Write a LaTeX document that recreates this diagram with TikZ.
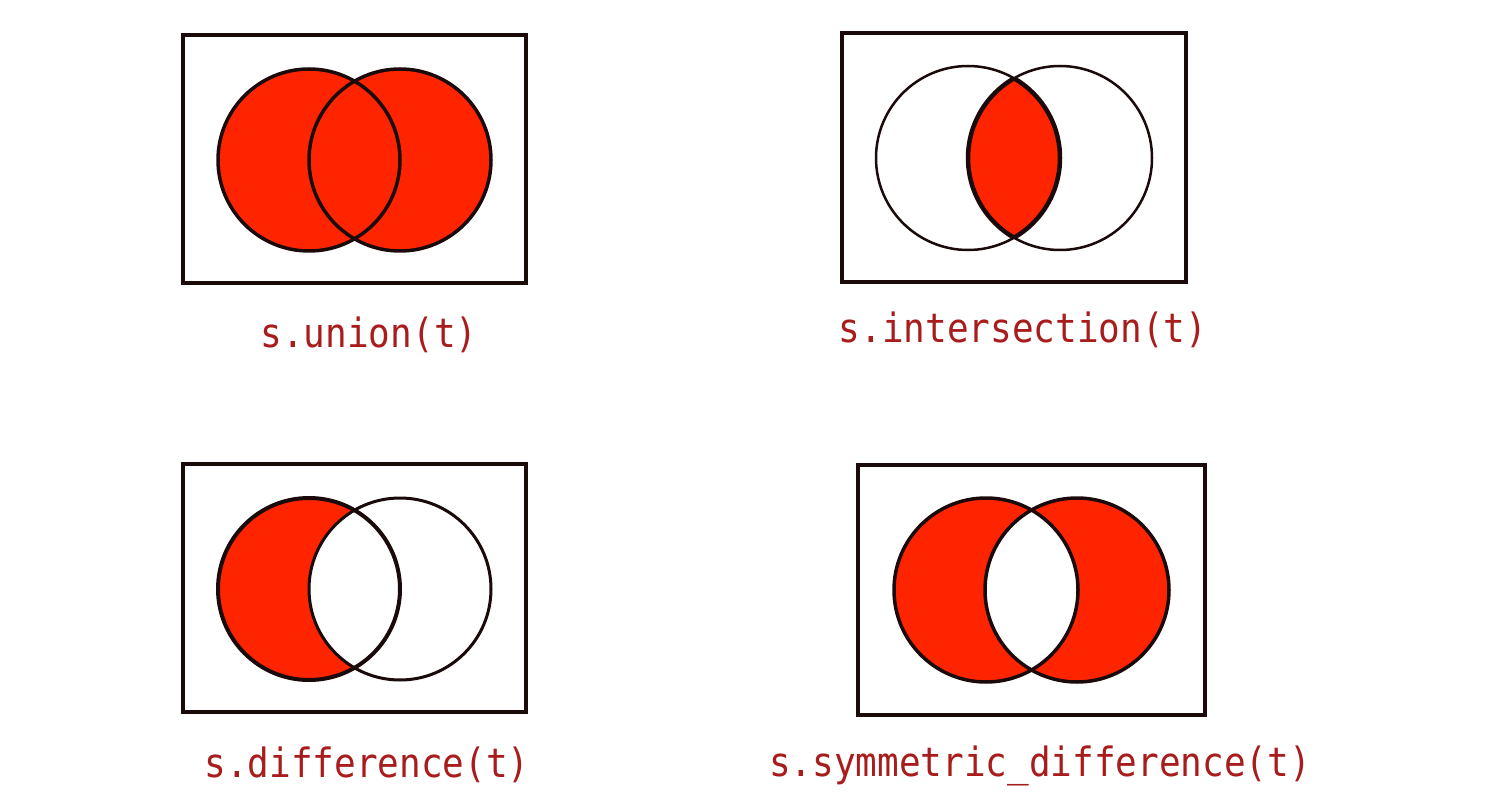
\documentclass[tikz,border=0pt]{standalone}
\usepackage{fontspec}
\setmonofont{DejaVu Sans Mono}
\usetikzlibrary{calc}
\definecolor{setred}{RGB}{255,36,0}
\definecolor{labelred}{RGB}{168,28,28}
\definecolor{edge}{RGB}{26,10,10}
\tikzset{
	frame/.style={draw=edge, line width=4.5pt},
	ring/.style={draw=edge, line width=3.5pt},
	thinring/.style={draw=edge, line width=2.5pt},
	setlabel/.style={anchor=base, text=labelred, font=\ttfamily\fontsize{36}{40}\selectfont, inner sep=0pt}
}

\begin{document}
\begin{tikzpicture}[x=1pt, y=-1pt]
			%%%%% START %%%%%
			\useasboundingbox (0, 0) rectangle (1500, 810);
			
			% s.union(t)
			\draw[frame] (183, 35) rectangle (526, 283);
			\coordinate (uS) at (309, 160);
			\coordinate (uT) at (400, 160);
			\fill[setred] (uS) circle (91) (uT) circle (91);
			\draw[ring] (uS) circle (91);
			\draw[ring] (uT) circle (91);
			\node[setlabel] (union) at (369, 348) {\scalebox{1}[1.12]{s.union(t)}};
			
			% s.intersection(t)
			\draw[frame] (842, 33) rectangle (1186, 282);
			\coordinate (iS) at (968, 158);
			\coordinate (iT) at (1060, 158);
			\begin{scope}
				\clip (iS) circle (92);
				\fill[setred] (iT) circle (92);
			\end{scope}
			\draw[thinring] (iS) circle (92);
			\draw[thinring] (iT) circle (92);
			\begin{scope}
				\clip (iS) circle (92);
				\draw[ring, line width=4.5pt] (iT) circle (92);
			\end{scope}
			\begin{scope}
				\clip (iT) circle (92);
				\draw[ring, line width=4.5pt] (iS) circle (92);
			\end{scope}
			\node[setlabel] (intersection) at (1023, 343) {\scalebox{1}[1.12]{s.intersection(t)}};
			
			% s.difference(t)
			\draw[frame] (183, 464) rectangle (526, 712);
			\coordinate (dS) at (309, 589);
			\coordinate (dT) at (400, 589);
			\fill[setred] (dS) circle (91);
			\fill[white] (dT) circle (91);
			\draw[ring, line width=4pt] (dS) circle (91);
			\draw[ring, line width=3pt] (dT) circle (91);
			\node[setlabel] (difference) at (367, 777) {\scalebox{1}[1.12]{s.difference(t)}};
			
			% s.symmetric_difference(t)
			\draw[frame] (858, 465) rectangle (1205, 715);
			\coordinate (sS) at (986, 590);
			\coordinate (sT) at (1077, 590);
			\fill[setred, even odd rule] (sS) circle (92) (sT) circle (92);
			\draw[ring] (sS) circle (92);
			\draw[ring] (sT) circle (92);
			\node[setlabel] (symmetric) at (1040, 776) {\scalebox{1}[1.12]{s.symmetric\_difference(t)}};
			
			%%%%% END %%%%%
		\end{tikzpicture}
\end{document}
